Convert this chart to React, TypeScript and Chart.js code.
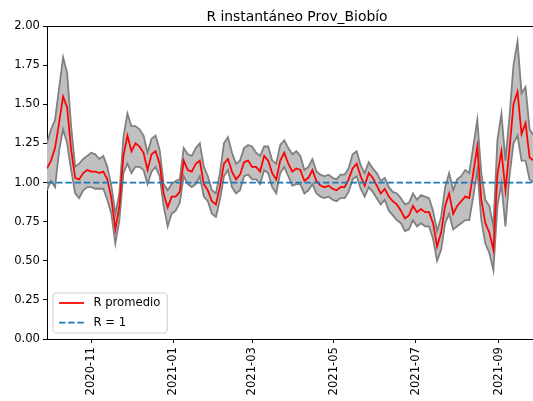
import { useEffect, useRef } from "react";
import { Chart, registerables } from "chart.js";

Chart.register(...registerables);

// ---- data ----
const TITLE = "R instantáneo Prov_Biobío";
const START_DATE = "2020-09-29";
const STEP_DAYS = 3;
const X_MIN_DATE = "2020-09-29";
const X_MAX_DATE = "2021-10-07";
const TICK_DATES = ["2020-11-01", "2021-01-01", "2021-03-01", "2021-05-01", "2021-07-01", "2021-09-01"];
const TICK_LABELS = ["2020-11", "2021-01", "2021-03", "2021-05", "2021-07", "2021-09"];
const Y_MIN = 0;
const Y_MAX = 2;
const Y_STEP = 0.25;
const R_REF = 1;
const LABEL_MEAN = "R promedio";
const LABEL_REF = "R = 1";

const R_MEAN = [
  1.09, 1.14, 1.22, 1.38, 1.55, 1.48, 1.21, 1.03, 1.02, 1.06, 1.08, 1.07, 1.07, 1.06, 1.07, 1.02, 0.90, 0.70, 0.85, 1.17,
  1.30, 1.20, 1.25, 1.23, 1.19, 1.08, 1.18, 1.20, 1.12, 0.93, 0.84, 0.91, 0.91, 0.94, 1.14, 1.08, 1.07, 1.12, 1.14, 0.99,
  0.95, 0.88, 0.86, 0.97, 1.12, 1.15, 1.07, 1.02, 1.05, 1.13, 1.14, 1.10, 1.10, 1.07, 1.17, 1.14, 1.06, 1.02, 1.14, 1.19,
  1.12, 1.07, 1.09, 1.08, 1.01, 1.03, 1.08, 1.01, 0.98, 0.97, 0.98, 0.96, 0.95, 0.97, 0.97, 1.02, 1.09, 1.12, 1.04, 0.98,
  1.06, 1.03, 0.98, 0.93, 0.96, 0.91, 0.88, 0.86, 0.82, 0.77, 0.79, 0.85, 0.81, 0.83, 0.81, 0.81, 0.74, 0.59, 0.68, 0.85,
  0.93, 0.80, 0.85, 0.88, 0.91, 0.90, 1.06, 1.23, 0.89, 0.74, 0.68, 0.57, 1.05, 1.20, 0.95, 1.21, 1.50, 1.58, 1.31, 1.38,
  1.16, 1.14,
];
const R_UPPER = [
  1.25, 1.34, 1.40, 1.60, 1.80, 1.70, 1.36, 1.10, 1.12, 1.15, 1.17, 1.19, 1.18, 1.15, 1.17, 1.10, 0.98, 0.80, 0.93, 1.29,
  1.44, 1.36, 1.36, 1.34, 1.30, 1.19, 1.28, 1.30, 1.21, 0.99, 0.95, 0.99, 1.01, 1.02, 1.22, 1.18, 1.17, 1.22, 1.25, 1.10,
  1.04, 0.95, 0.93, 1.06, 1.25, 1.29, 1.19, 1.12, 1.14, 1.22, 1.24, 1.23, 1.19, 1.17, 1.23, 1.23, 1.14, 1.12, 1.24, 1.27,
  1.22, 1.18, 1.20, 1.17, 1.08, 1.10, 1.15, 1.07, 1.05, 1.04, 1.05, 1.03, 1.02, 1.05, 1.05, 1.09, 1.18, 1.20, 1.11, 1.06,
  1.13, 1.09, 1.06, 1.01, 1.03, 0.97, 0.94, 0.93, 0.90, 0.86, 0.87, 0.93, 0.89, 0.92, 0.91, 0.90, 0.82, 0.69, 0.78, 0.97,
  1.06, 0.95, 1.02, 1.04, 1.08, 1.06, 1.23, 1.40, 1.06, 0.89, 0.85, 0.72, 1.27, 1.44, 1.14, 1.42, 1.75, 1.90, 1.57, 1.61,
  1.34, 1.30,
];
const R_LOWER = [
  0.95, 1.01, 0.97, 1.20, 1.34, 1.25, 1.08, 0.93, 0.90, 0.95, 0.97, 0.97, 0.96, 0.96, 0.96, 0.89, 0.80, 0.61, 0.76, 1.06,
  1.12, 1.06, 1.10, 1.10, 1.08, 0.99, 1.07, 1.10, 1.04, 0.85, 0.72, 0.80, 0.82, 0.87, 1.04, 0.99, 0.97, 0.99, 1.04, 0.91,
  0.88, 0.80, 0.78, 0.89, 1.04, 1.08, 0.97, 0.93, 0.95, 1.04, 1.05, 1.02, 1.02, 0.99, 1.08, 1.06, 0.97, 0.93, 1.06, 1.10,
  1.04, 0.98, 0.99, 0.99, 0.93, 0.95, 0.99, 0.93, 0.91, 0.90, 0.91, 0.89, 0.88, 0.90, 0.90, 0.94, 1.02, 1.04, 0.96, 0.91,
  0.97, 0.94, 0.90, 0.86, 0.89, 0.82, 0.79, 0.76, 0.74, 0.69, 0.70, 0.76, 0.72, 0.74, 0.72, 0.72, 0.64, 0.50, 0.57, 0.74,
  0.80, 0.70, 0.72, 0.74, 0.76, 0.76, 0.91, 1.08, 0.76, 0.61, 0.55, 0.44, 0.85, 0.99, 0.72, 1.04, 1.25, 1.30, 1.14, 1.14,
  1.02, 1.00,
];

// ---- helpers ----
const dayNum = (s: string) =>
  Date.UTC(+s.slice(0, 4), +s.slice(5, 7) - 1, +s.slice(8, 10)) / 86400000;

const FONT = "'DejaVu Sans', sans-serif";
const FS = 11.6;

const frameAndText = {
  id: "frameAndText",
  afterDraw(chart: any) {
    const { ctx, chartArea } = chart;
    const { left, right, top, bottom } = chartArea;
    ctx.save();
    // spines top & right
    ctx.strokeStyle = "#000";
    ctx.lineWidth = 1;
    ctx.beginPath();
    ctx.moveTo(left, top + 0.5);
    ctx.lineTo(right, top + 0.5);
    ctx.moveTo(right - 0.5, top);
    ctx.lineTo(right - 0.5, bottom);
    ctx.stroke();

    // title
    ctx.fillStyle = "#000";
    ctx.font = `13.9px ${FONT}`;
    ctx.textAlign = "center";
    ctx.textBaseline = "alphabetic";
    ctx.fillText(TITLE, (left + right) / 2, 21);

    // legend
    ctx.font = `${FS}px ${FONT}`;
    const bx = left + 6;
    const bb = bottom - 6;
    const bh = 40;
    const by = bb - bh;
    const tw = Math.max(ctx.measureText(LABEL_MEAN).width, ctx.measureText(LABEL_REF).width);
    const hx0 = bx + 6;
    const hx1 = hx0 + 25;
    const tx = hx1 + 9.5;
    const bw = tx + tw + 7 - bx;
    const r = 3;
    ctx.beginPath();
    ctx.moveTo(bx + r, by);
    ctx.lineTo(bx + bw - r, by);
    ctx.quadraticCurveTo(bx + bw, by, bx + bw, by + r);
    ctx.lineTo(bx + bw, by + bh - r);
    ctx.quadraticCurveTo(bx + bw, by + bh, bx + bw - r, by + bh);
    ctx.lineTo(bx + r, by + bh);
    ctx.quadraticCurveTo(bx, by + bh, bx, by + bh - r);
    ctx.lineTo(bx, by + r);
    ctx.quadraticCurveTo(bx, by, bx + r, by);
    ctx.closePath();
    ctx.fillStyle = "rgba(255,255,255,0.8)";
    ctx.fill();
    ctx.strokeStyle = "#d0d0d0";
    ctx.lineWidth = 1;
    ctx.stroke();

    const y1 = by + 10;
    const y2 = by + 29.5;
    ctx.lineWidth = 1.75;
    ctx.strokeStyle = "#ff0000";
    ctx.setLineDash([]);
    ctx.beginPath();
    ctx.moveTo(hx0, y1);
    ctx.lineTo(hx1, y1);
    ctx.stroke();
    ctx.strokeStyle = "#1f77b4";
    ctx.setLineDash([6.4, 2.8]);
    ctx.beginPath();
    ctx.moveTo(hx0, y2);
    ctx.lineTo(hx1, y2);
    ctx.stroke();
    ctx.setLineDash([]);

    ctx.fillStyle = "#000";
    ctx.textAlign = "left";
    ctx.textBaseline = "middle";
    ctx.fillText(LABEL_MEAN, tx, y1);
    ctx.fillText(LABEL_REF, tx, y2);
    ctx.restore();
  },
};

export default function App() {
  const ref = useRef<HTMLCanvasElement | null>(null);

  useEffect(() => {
    if (!ref.current) return;
    const x0 = dayNum(START_DATE);
    const xs = R_MEAN.map((_, i) => x0 + i * STEP_DAYS);
    const xMin = dayNum(X_MIN_DATE);
    const xMax = dayNum(X_MAX_DATE);
    const pts = (arr: number[]) => arr.map((v, i) => ({ x: xs[i], y: v }));

    const axisCommon = {
      grid: {
        drawOnChartArea: false,
        drawTicks: true,
        tickLength: 4,
        tickColor: "#000",
        color: "#000",
        tickWidth: 1,
      },
      border: { display: true, color: "#000", width: 1 },
    };

    const chart = new Chart(ref.current, {
      type: "line",
      data: {
        datasets: [
          {
            label: "upper",
            data: pts(R_UPPER),
            borderColor: "#808080",
            borderWidth: 1.8,
            pointRadius: 0,
            backgroundColor: "#c0c0c0",
            fill: "+1",
            tension: 0,
            order: 3,
          },
          {
            label: "lower",
            data: pts(R_LOWER),
            borderColor: "#808080",
            borderWidth: 1.8,
            pointRadius: 0,
            fill: false,
            tension: 0,
            order: 2,
          },
          {
            label: LABEL_MEAN,
            data: pts(R_MEAN),
            borderColor: "#ff0000",
            borderWidth: 1.75,
            pointRadius: 0,
            fill: false,
            tension: 0,
            order: 1,
          },
          {
            label: LABEL_REF,
            data: [
              { x: xMin, y: R_REF },
              { x: xMax, y: R_REF },
            ],
            borderColor: "#1f77b4",
            borderWidth: 1.75,
            borderDash: [6.4, 2.8],
            pointRadius: 0,
            fill: false,
            order: 0,
          },
        ],
      },
      options: {
        responsive: false,
        animation: false,
        devicePixelRatio: 1,
        events: [],
        layout: { padding: { left: 0, right: 13, top: 26, bottom: 0 } },
        plugins: {
          legend: { display: false },
          title: { display: false },
          tooltip: { enabled: false },
        },
        scales: {
          x: {
            type: "linear",
            min: xMin,
            max: xMax,
            afterBuildTicks: (s: any) => {
              s.ticks = TICK_DATES.map((d) => ({ value: dayNum(d) }));
            },
            afterFit: (s: any) => {
              s.height = 62;
            },
            ticks: {
              autoSkip: false,
              maxRotation: 90,
              minRotation: 90,
              padding: 4,
              color: "#000",
              font: { family: FONT, size: FS },
              callback: (_v: any, i: number) => TICK_LABELS[i],
            },
            ...axisCommon,
          },
          y: {
            min: Y_MIN,
            max: Y_MAX,
            afterFit: (s: any) => {
              s.width = 47;
            },
            ticks: {
              stepSize: Y_STEP,
              padding: 3,
              color: "#000",
              font: { family: FONT, size: FS },
              callback: (v: any) => Number(v).toFixed(2),
            },
            ...axisCommon,
          },
        },
      },
      plugins: [frameAndText],
    } as any);
    return () => chart.destroy();
  }, []);

  return (
    <div
      style={{
        position: "absolute",
        left: 0,
        top: 0,
        width: 533,
        height: 401,
        overflow: "hidden",
        background: "#fff",
      }}
    >
      <canvas ref={ref} width={560} height={401} style={{ display: "block" }} />
    </div>
  );
}
